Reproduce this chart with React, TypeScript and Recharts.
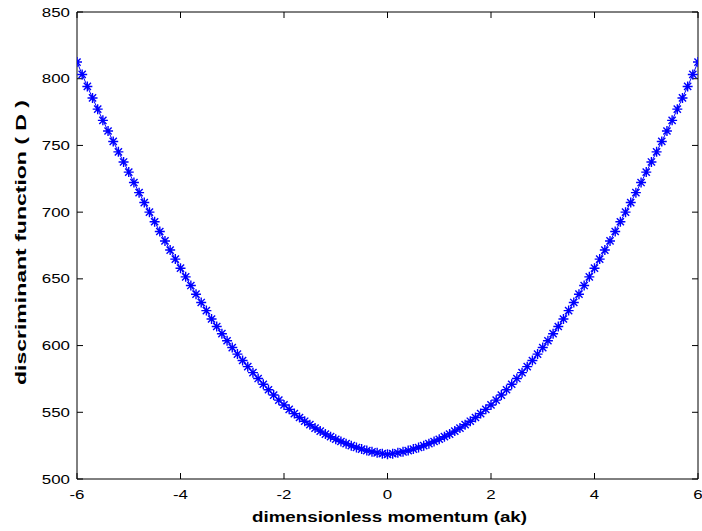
import React from 'react';
import { ComposedChart, Line, XAxis, YAxis } from 'recharts';

const xValues = [
  -6.0, -5.9, -5.8, -5.7, -5.6, -5.5, -5.4, -5.3, -5.2, -5.1,
  -5.0, -4.9, -4.8, -4.7, -4.6, -4.5, -4.4, -4.3, -4.2, -4.1,
  -4.0, -3.9, -3.8, -3.7, -3.6, -3.5, -3.4, -3.3, -3.2, -3.1,
  -3.0, -2.9, -2.8, -2.7, -2.6, -2.5, -2.4, -2.3, -2.2, -2.1,
  -2.0, -1.9, -1.8, -1.7, -1.6, -1.5, -1.4, -1.3, -1.2, -1.1,
  -1.0, -0.9, -0.8, -0.7, -0.6, -0.5, -0.4, -0.3, -0.2, -0.1,
  0.0,
  0.1, 0.2, 0.3, 0.4, 0.5, 0.6, 0.7, 0.8, 0.9, 1.0,
  1.1, 1.2, 1.3, 1.4, 1.5, 1.6, 1.7, 1.8, 1.9, 2.0,
  2.1, 2.2, 2.3, 2.4, 2.5, 2.6, 2.7, 2.8, 2.9, 3.0,
  3.1, 3.2, 3.3, 3.4, 3.5, 3.6, 3.7, 3.8, 3.9, 4.0,
  4.1, 4.2, 4.3, 4.4, 4.5, 4.6, 4.7, 4.8, 4.9, 5.0,
  5.1, 5.2, 5.3, 5.4, 5.5, 5.6, 5.7, 5.8, 5.9, 6.0,
];

const dValues = [
  812.5, 803.2, 794.2, 785.6, 777.2, 768.8, 760.8, 753.0, 745.2, 737.6,
  730.0, 722.2, 714.6, 707.2, 700.0, 692.8, 685.5, 678.4, 671.6, 664.8,
  658.0, 651.5, 645.0, 638.5, 632.3, 626.2, 619.9, 614.3, 608.9, 603.6,
  598.5, 593.6, 588.8, 584.2, 579.7, 575.3, 571.0, 566.9, 562.9, 559.1,
  555.5, 552.2, 549.0, 546.1, 543.3, 540.7, 538.2, 535.9, 533.7, 531.7,
  529.8, 528.1, 526.5, 525.0, 523.6, 522.4, 521.3, 520.4, 519.6, 519.0,
  518.5,
  519.0, 519.6, 520.4, 521.3, 522.4, 523.6, 525.0, 526.5, 528.1, 529.8,
  531.7, 533.7, 535.9, 538.2, 540.7, 543.3, 546.1, 549.0, 552.2, 555.5,
  559.1, 562.9, 566.9, 571.0, 575.3, 579.7, 584.2, 588.8, 593.6, 598.5,
  603.6, 608.9, 614.3, 619.9, 626.2, 632.3, 638.5, 645.0, 651.5, 658.0,
  664.8, 671.6, 678.4, 685.5, 692.8, 700.0, 707.2, 714.6, 722.2, 730.0,
  737.6, 745.2, 753.0, 760.8, 768.8, 777.2, 785.6, 794.2, 803.2, 812.5,
];

const xTicks = [-6, -4, -2, 0, 2, 4, 6];
const yTicks = [500, 550, 600, 650, 700, 750, 800, 850];
const xTitle = 'dimensionless momentum (ak)';
const yTitle = 'discriminant function ( D )';

const data = xValues.map((x, i) => ({ x, d: dValues[i] }));

const FONT = '"Liberation Sans", Arial, Helvetica, sans-serif';
const BLUE = '#0000ff';

const XTick = (props: any) => {
  const { x, y, payload } = props;
  return (
    <g transform={`translate(${x},${y})`}>
      <text transform="scale(1.3,1)" textAnchor="middle" dy="0.71em" fontSize={13} fontFamily={FONT} fill="#000">
        {payload.value}
      </text>
    </g>
  );
};

const YTick = (props: any) => {
  const { x, y, payload } = props;
  return (
    <g transform={`translate(${x},${y})`}>
      <text transform="scale(1.3,1)" textAnchor="end" dy="0.355em" fontSize={13} fontFamily={FONT} fill="#000">
        {payload.value}
      </text>
    </g>
  );
};

const renderStar = (p: any) => {
  const { cx, cy, index } = p;
  if (cx == null || cy == null) return <g key={`s${index}`} />;
  const r = 5;
  const q = r * 0.72;
  const d = `M${cx - r},${cy}L${cx + r},${cy}M${cx},${cy - r}L${cx},${cy + r}M${cx - q},${cy - q}L${cx + q},${cy + q}M${cx - q},${cy + q}L${cx + q},${cy - q}`;
  return <path key={`s${index}`} d={d} stroke={BLUE} strokeWidth={1.4} fill="none" />;
};

const XTitle = (props: any) => {
  const vb = props.viewBox || {};
  const cx = vb.x + vb.width / 2 + 2;
  return (
    <text x={cx} y={vb.y + 42.7} textAnchor="middle" fontSize={14} fontWeight="bold" fontFamily={FONT}
      fill="#000" textLength={275} lengthAdjust="spacingAndGlyphs">
      {xTitle}
    </text>
  );
};

const YTitle = (props: any) => {
  const vb = props.viewBox || {};
  const cy = vb.y + vb.height / 2 - 3;
  const bx = 26;
  return (
    <text x={bx} y={cy} transform={`rotate(-90, ${bx}, ${cy})`} textAnchor="middle" fontSize={14} fontWeight="bold"
      fontFamily={FONT} fill="#000" textLength={285} lengthAdjust="spacingAndGlyphs">
      {yTitle}
    </text>
  );
};

const Empty = () => <g />;

export default function App() {
  return (
    <div style={{ position: 'absolute', left: 0, top: 0, width: 702, height: 531, background: '#fff' }}>
      <ComposedChart width={702} height={531} data={data} margin={{ top: 11, right: 3, bottom: 0, left: 0 }}>
        <XAxis xAxisId="b" dataKey="x" type="number" domain={[-6, 6]} ticks={xTicks} orientation="bottom"
          height={52} tickSize={-6} tickMargin={17} tick={<XTick />} axisLine={{ stroke: '#000' }}
          tickLine={{ stroke: '#000' }} allowDataOverflow label={<XTitle />} />
        <XAxis xAxisId="t" dataKey="x" type="number" domain={[-6, 6]} ticks={xTicks} orientation="top"
          height={1} tickSize={-6} tick={Empty} axisLine={{ stroke: '#000' }} tickLine={{ stroke: '#000' }}
          allowDataOverflow />
        <YAxis yAxisId="l" type="number" domain={[500, 850]} ticks={yTicks} orientation="left" width={77}
          tickSize={-6} tickMargin={13} tick={<YTick />} axisLine={{ stroke: '#000' }} tickLine={{ stroke: '#000' }}
          allowDataOverflow label={<YTitle />} />
        <YAxis yAxisId="r" type="number" domain={[500, 850]} ticks={yTicks} orientation="right" width={1}
          tickSize={-6} tick={Empty} axisLine={{ stroke: '#000' }} tickLine={{ stroke: '#000' }} allowDataOverflow />
        <Line xAxisId="b" yAxisId="l" type="linear" dataKey="d" stroke={BLUE} strokeWidth={1}
          dot={renderStar} activeDot={false} isAnimationActive={false} />
      </ComposedChart>
    </div>
  );
}
